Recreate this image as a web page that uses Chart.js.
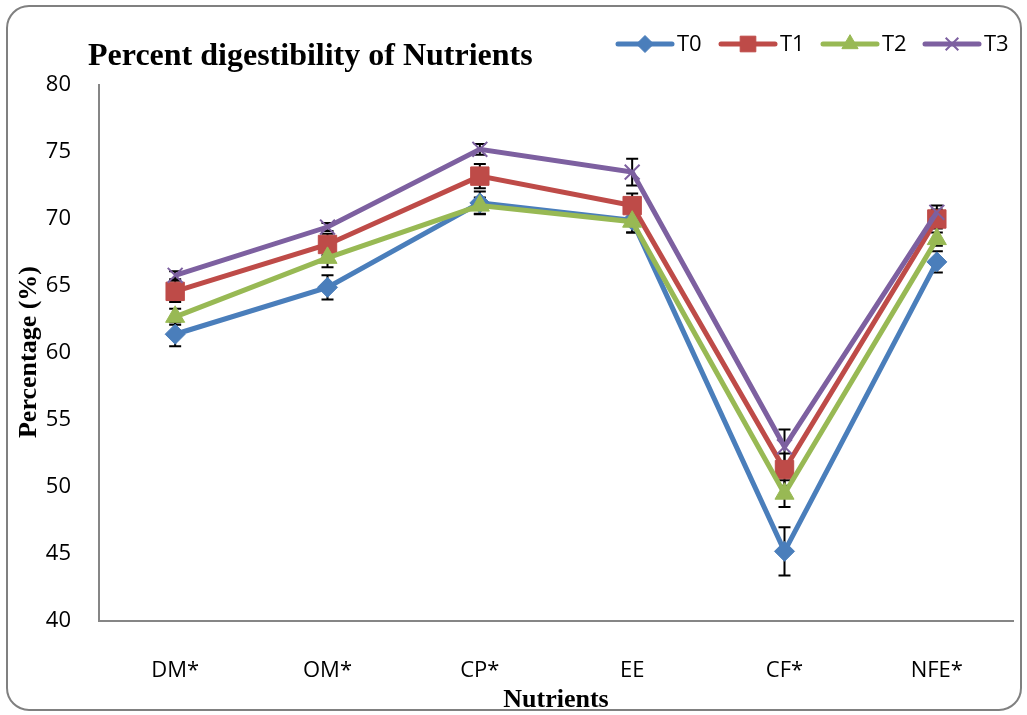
<!DOCTYPE html>
<html>
<head>
<meta charset="utf-8">
<script src="https://cdn.jsdelivr.net/npm/chart.js@4/dist/chart.umd.min.js"></script>
<style>
  html, body { margin: 0; padding: 0; background: #ffffff; }
  #chart { display: block; }
</style>
</head>
<body>
<canvas id="chart" width="1027" height="715"></canvas>
<script>
// Data
const nutrients = ['DM*', 'OM*', 'CP*', 'EE', 'CF*', 'NFE*'];
const seriesNames = ['T0', 'T1', 'T2', 'T3'];
const t0 = [61.4, 64.9, 71.2, 69.9, 45.2, 66.8];
const t1 = [64.6, 68.1, 73.2, 71.0, 51.3, 70.0];
const t2 = [62.7, 67.1, 71.0, 69.8, 49.5, 68.5];
const t3 = [65.8, 69.4, 75.2, 73.5, 53.0, 70.5];
const t0Err = [0.9, 0.9, 0.85, 0.9, 1.8, 0.8];
const t1Err = [0.8, 0.8, 0.9, 0.9, 1.2, 0.7];
const t2Err = [0.6, 0.7, 0.6, 0.8, 1.0, 0.5];
const t3Err = [0.3, 0.3, 0.4, 1.0, 1.3, 0.5];
const yTicks = [40, 45, 50, 55, 60, 65, 70, 75, 80];

// Excel 2007 style palette
const colors = {
    t0: '#4A7EBB',
    t1: '#BE4B48',
    t2: '#98B954',
    t3: '#7D60A0'
};

const tickFont = "'Open Sans', 'Noto Sans', sans-serif";
const serifFont = "'Liberation Serif', 'DejaVu Serif', serif";

const seriesValues = [t0, t1, t2, t3];
const seriesErrors = [t0Err, t1Err, t2Err, t3Err];
const seriesColors = [colors.t0, colors.t1, colors.t2, colors.t3];
const markerStyles = [
    { pointStyle: 'rectRot', radius: 10, borderWidth: 1 },
    { pointStyle: 'rect', radius: 13, borderWidth: 1 },
    { pointStyle: 'triangle', radius: 11, borderWidth: 1 },
    { pointStyle: 'crossRot', radius: 10.5, borderWidth: 2 }
];

const datasets = seriesNames.map((name, i) => ({
    label: name,
    data: seriesValues[i],
    errors: seriesErrors[i],
    borderColor: seriesColors[i],
    backgroundColor: seriesColors[i],
    pointBackgroundColor: seriesColors[i],
    pointBorderColor: seriesColors[i],
    borderWidth: 5,
    pointStyle: markerStyles[i].pointStyle,
    pointRadius: markerStyles[i].radius,
    pointHoverRadius: markerStyles[i].radius,
    pointBorderWidth: markerStyles[i].borderWidth,
    tension: 0,
    fill: false,
    order: seriesNames.length - i   // T3 drawn on top
}));

// Frame with rounded corners + white background
const framePlugin = {
    id: 'frame',
    beforeDraw(chart) {
        const ctx = chart.ctx;
        ctx.save();
        ctx.fillStyle = '#ffffff';
        ctx.fillRect(0, 0, chart.width, chart.height);
        ctx.beginPath();
        ctx.roundRect(7, 6, 1014, 704, 22);
        ctx.strokeStyle = '#808080';
        ctx.lineWidth = 2;
        ctx.stroke();
        ctx.restore();
    }
};

// Error bars, drawn under the lines
const errorBarPlugin = {
    id: 'errorBars',
    beforeDatasetsDraw(chart) {
        const ctx = chart.ctx;
        const yScale = chart.scales.y;
        ctx.save();
        ctx.strokeStyle = '#000000';
        ctx.lineWidth = 2;
        chart.data.datasets.forEach((ds, i) => {
            const meta = chart.getDatasetMeta(i);
            meta.data.forEach((pt, j) => {
                const v = ds.data[j];
                const e = ds.errors[j];
                const top = yScale.getPixelForValue(v + e);
                const bot = yScale.getPixelForValue(v - e);
                ctx.beginPath();
                ctx.moveTo(pt.x, top);
                ctx.lineTo(pt.x, bot);
                ctx.moveTo(pt.x - 6, top);
                ctx.lineTo(pt.x + 6, top);
                ctx.moveTo(pt.x - 6, bot);
                ctx.lineTo(pt.x + 6, bot);
                ctx.stroke();
            });
        });
        ctx.restore();
    }
};

// Title, axis titles and legend
const textPlugin = {
    id: 'texts',
    afterDraw(chart) {
        const ctx = chart.ctx;
        const area = chart.chartArea;
        ctx.save();
        ctx.fillStyle = '#000000';

        ctx.font = 'bold 32px ' + serifFont;
        ctx.textAlign = 'left';
        ctx.textBaseline = 'alphabetic';
        ctx.fillText('Percent digestibility of Nutrients', 88, 65);

        ctx.font = 'bold 26px ' + serifFont;
        ctx.textAlign = 'center';
        ctx.textBaseline = 'middle';
        ctx.fillText('Nutrients', (area.left + area.right) / 2, 700);

        ctx.save();
        ctx.translate(29, 352);
        ctx.rotate(-Math.PI / 2);
        ctx.fillText('Percentage (%)', 0, 0);
        ctx.restore();

        // legend
        const legendX = [618, 721, 823, 925];
        const legendY = 44;
        ctx.font = '22px ' + tickFont;
        ctx.textAlign = 'left';
        chart.data.datasets.forEach((ds, i) => {
            const x0 = legendX[i];
            ctx.strokeStyle = ds.borderColor;
            ctx.lineWidth = 5;
            ctx.lineCap = 'round';
            ctx.beginPath();
            ctx.moveTo(x0, legendY);
            ctx.lineTo(x0 + 54, legendY);
            ctx.stroke();
            ctx.lineCap = 'butt';
            ctx.fillStyle = ds.pointBackgroundColor;
            ctx.strokeStyle = ds.pointBorderColor;
            ctx.lineWidth = ds.pointBorderWidth;
            Chart.helpers.drawPoint(ctx, {
                pointStyle: ds.pointStyle,
                radius: ds.pointRadius * 0.85,
                rotation: 0,
                borderWidth: ds.pointBorderWidth
            }, x0 + 27, legendY);
            ctx.fillStyle = '#000000';
            ctx.fillText(ds.label, x0 + 59, legendY + 1);
        });
        ctx.restore();
    }
};

new Chart(document.getElementById('chart'), {
    type: 'line',
    data: {
        labels: nutrients,
        datasets: datasets
    },
    options: {
        responsive: false,
        animation: false,
        layout: {
            padding: { left: 10, right: 10, top: 85, bottom: 10 }
        },
        plugins: {
            legend: { display: false },
            tooltip: { enabled: false }
        },
        scales: {
            x: {
                offset: true,
                grid: { display: false },
                border: { display: true, color: '#868686', width: 2 },
                ticks: {
                    color: '#000000',
                    font: { family: tickFont, size: 22 },
                    padding: 29,
                    maxRotation: 0
                },
                afterFit(scale) { scale.height = 84; }
            },
            y: {
                min: 40,
                max: 80,
                afterBuildTicks(scale) {
                    scale.ticks = yTicks.map(v => ({ value: v }));
                },
                grid: { display: false },
                border: { display: true, color: '#868686', width: 2 },
                ticks: {
                    color: '#000000',
                    font: { family: tickFont, size: 22 },
                    padding: 20
                },
                afterFit(scale) { scale.width = 89; }
            }
        }
    },
    plugins: [framePlugin, errorBarPlugin, textPlugin]
});
</script>
</body>
</html>
